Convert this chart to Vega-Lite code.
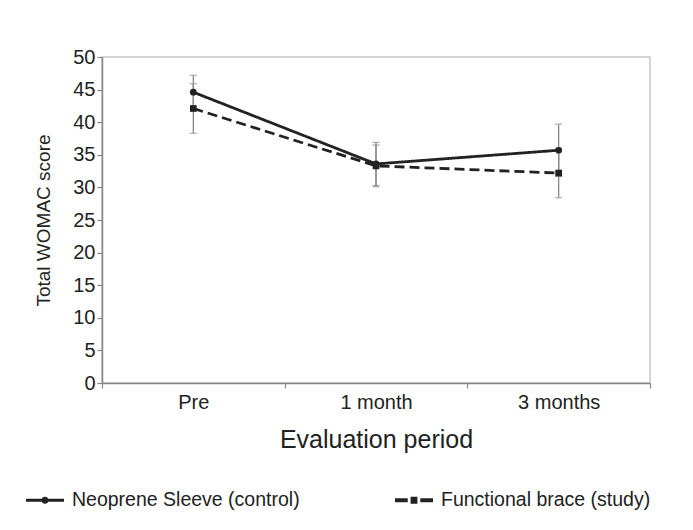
{
  "$schema": "https://vega.github.io/schema/vega-lite/v6.json",
  "width": 548,
  "height": 326,
  "autosize": "none",
  "padding": {"left": 102, "top": 57, "right": 43, "bottom": 147},
  "background": "white",
  "config": {
    "font": "Liberation Sans",
    "view": {"stroke": "#c8c8c8", "strokeWidth": 1.5},
    "axis": {"labelFont": "Liberation Sans", "titleFont": "Liberation Sans", "labelColor": "#222", "titleColor": "#222", "titleFontWeight": "normal", "grid": false, "domainColor": "#888", "tickColor": "#888", "domainWidth": 1.5, "tickWidth": 1.2, "labelOverlap": false}
  },
  "data": {
    "values": [
      {"period": "Pre", "series": "Neoprene Sleeve (control)", "mean": 44.6, "lo": 42.0, "hi": 47.2},
      {"period": "1 month", "series": "Neoprene Sleeve (control)", "mean": 33.6, "lo": 30.3, "hi": 36.9},
      {"period": "3 months", "series": "Neoprene Sleeve (control)", "mean": 35.7, "lo": 31.7, "hi": 39.7},
      {"period": "Pre", "series": "Functional brace (study)", "mean": 42.1, "lo": 38.3, "hi": 45.9},
      {"period": "1 month", "series": "Functional brace (study)", "mean": 33.3, "lo": 30.1, "hi": 36.5},
      {"period": "3 months", "series": "Functional brace (study)", "mean": 32.2, "lo": 28.4, "hi": 36.0}
    ]
  },
  "encoding": {
    "x": {
      "field": "period", "type": "nominal", "sort": ["Pre", "1 month", "3 months"],
      "scale": {"type": "band", "paddingInner": 0, "paddingOuter": 0},
      "axis": {"labelAngle": 0, "labelFontSize": 20, "tickSize": 5, "tickBand": "extent", "labelPadding": 4, "title": "Evaluation period", "titleFontSize": 25, "titlePadding": 15}
    }
  },
  "layer": [
    {
      "mark": {"type": "rule", "color": "#8a8a8a", "strokeWidth": 1.3},
      "encoding": {
        "y": {"field": "lo", "type": "quantitative", "scale": {"domain": [0, 50]}, "axis": {"values": [0,5,10,15,20,25,30,35,40,45,50], "labelFontSize": 20, "tickSize": 5, "labelPadding": 2, "title": "Total WOMAC score", "titleFontSize": 19, "titlePadding": 19}},
        "y2": {"field": "hi"}
      }
    },
    {
      "mark": {"type": "tick", "color": "#8a8a8a", "size": 7, "thickness": 1.2},
      "encoding": {"y": {"field": "lo", "type": "quantitative", "axis": {"values": [0,5,10,15,20,25,30,35,40,45,50], "labelFontSize": 20, "tickSize": 5, "labelPadding": 2, "title": "Total WOMAC score", "titleFontSize": 19, "titlePadding": 19}}}
    },
    {
      "mark": {"type": "tick", "color": "#8a8a8a", "size": 7, "thickness": 1.2},
      "encoding": {"y": {"field": "hi", "type": "quantitative", "axis": {"values": [0,5,10,15,20,25,30,35,40,45,50], "labelFontSize": 20, "tickSize": 5, "labelPadding": 2, "title": "Total WOMAC score", "titleFontSize": 19, "titlePadding": 19}}}
    },
    {
      "mark": {"type": "line", "color": "#222", "strokeWidth": 2.8},
      "encoding": {
        "y": {"field": "mean", "type": "quantitative", "axis": {"values": [0,5,10,15,20,25,30,35,40,45,50], "labelFontSize": 20, "tickSize": 5, "labelPadding": 2, "title": "Total WOMAC score", "titleFontSize": 19, "titlePadding": 19}},
        "detail": {"field": "series"},
        "strokeDash": {"field": "series", "type": "nominal", "scale": {"domain": ["Neoprene Sleeve (control)", "Functional brace (study)"], "range": [[1, 0], [10, 5]]}, "legend": null}
      }
    },
    {
      "mark": {"type": "point", "filled": true, "color": "#222", "opacity": 1, "size": 45},
      "encoding": {
        "y": {"field": "mean", "type": "quantitative", "axis": {"values": [0,5,10,15,20,25,30,35,40,45,50], "labelFontSize": 20, "tickSize": 5, "labelPadding": 2, "title": "Total WOMAC score", "titleFontSize": 19, "titlePadding": 19}},
        "shape": {"field": "series", "type": "nominal", "scale": {"domain": ["Neoprene Sleeve (control)", "Functional brace (study)"], "range": ["circle", "square"]}, "legend": null}
      }
    },
    {
      "mark": {"type": "point", "filled": true, "color": "#222", "opacity": 0, "size": 1444},
      "encoding": {
        "y": {"field": "mean", "type": "quantitative", "axis": {"values": [0,5,10,15,20,25,30,35,40,45,50], "labelFontSize": 20, "tickSize": 5, "labelPadding": 2, "title": "Total WOMAC score", "titleFontSize": 19, "titlePadding": 19}},
        "shape": {
          "field": "series", "type": "nominal",
          "scale": {"domain": ["Neoprene Sleeve (control)", "Functional brace (study)"], "range": ["M-1,-0.08H1V0.08H-1Z M-0.19,0a0.19,0.19 0 1,1 0.38,0a0.19,0.19 0 1,1 -0.38,0Z", "M-1,-0.1H-0.33V0.1H-1Z M0.33,-0.1H1V0.1H0.33Z M-0.18,-0.18H0.18V0.18H-0.18Z"]},
          "legend": {"title": null, "orient": "none", "legendX": -76, "legendY": 424, "direction": "horizontal", "columns": 2, "columnPadding": 95, "labelOffset": 8, "labelLimit": 500, "labelFontSize": 19.5, "labelFont": "Liberation Sans", "labelColor": "#222", "symbolSize": 1444, "symbolOpacity": 1, "symbolFillColor": "#222", "symbolStrokeWidth": 0}
        }
      }
    }
  ],
  "resolve": {"scale": {"shape": "independent"}}
}
